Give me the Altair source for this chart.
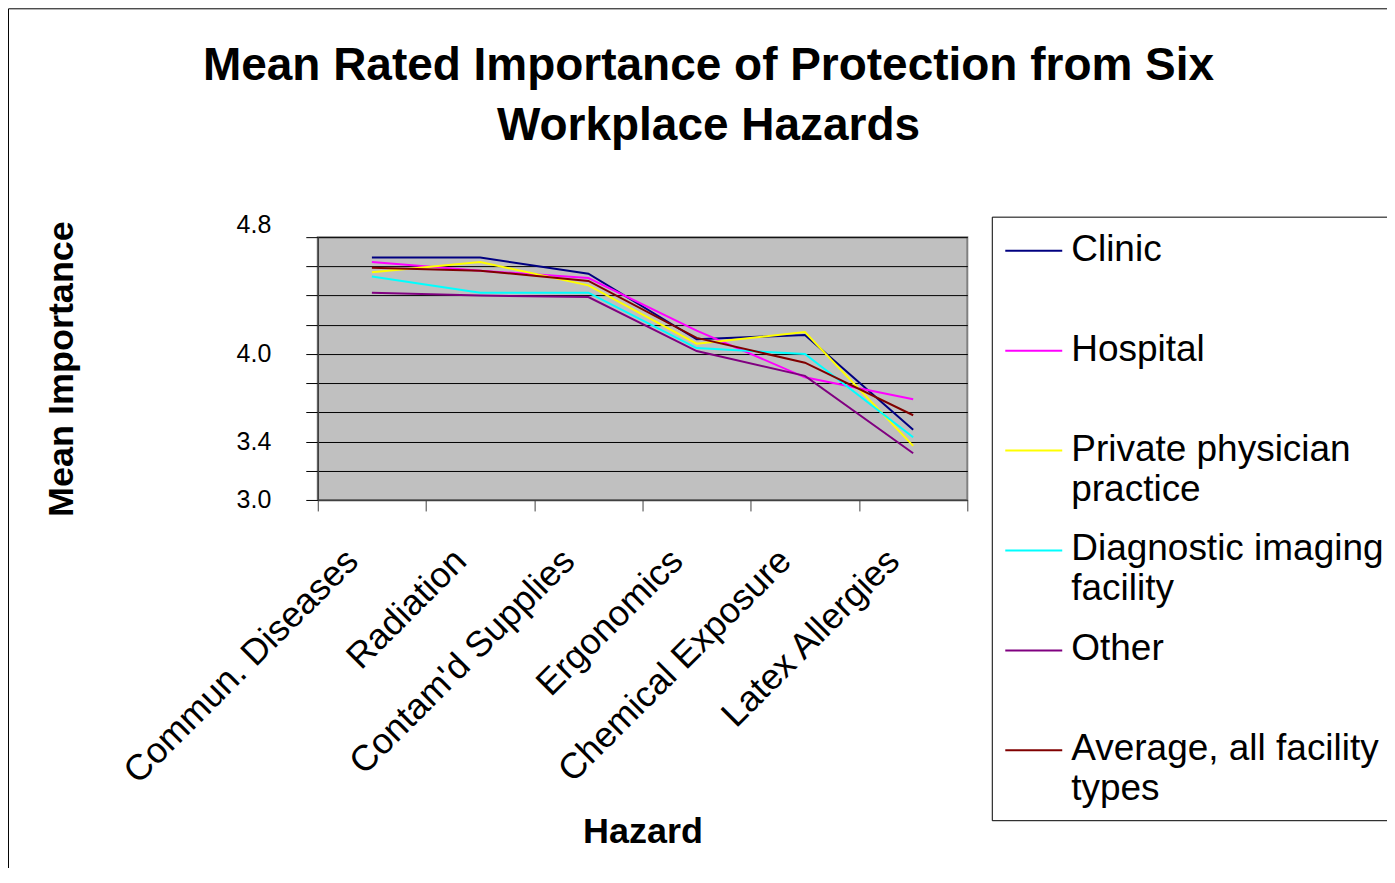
import altair as alt
import pandas as pd

FONT = "Liberation Sans"

hazards = ["Commun. Diseases", "Radiation", "Contam'd Supplies",
           "Ergonomics", "Chemical Exposure", "Latex Allergies"]
series_names = ["Clinic", "Hospital", "Private physician practice",
                "Diagnostic imaging facility", "Other", "Average, all facility types"]
legend_labels = ["Clinic", "Hospital", "Private physician\npractice",
                 "Diagnostic imaging\nfacility", "Other", "Average, all facility\ntypes"]
colors = ["#000080", "#FF00FF", "#FFFF00", "#00FFFF", "#800080", "#800000"]

clinic = [4.66, 4.66, 4.55, 4.10, 4.13, 3.48]
hospital = [4.63, 4.57, 4.52, 4.16, 3.84, 3.69]
private = [4.56, 4.63, 4.47, 4.07, 4.15, 3.37]
diagnostic = [4.53, 4.42, 4.42, 4.04, 4.00, 3.43]
other = [4.42, 4.40, 4.39, 4.02, 3.85, 3.32]
average = [4.59, 4.57, 4.50, 4.11, 3.94, 3.58]

y_ticks = [3.0, 3.2, 3.4, 3.6, 3.8, 4.0, 4.2, 4.4, 4.6, 4.8]
y_labels_shown = ["4.8", "4.0", "3.4", "3.0"]

all_series = [clinic, hospital, private, diagnostic, other, average]
rows = []
for s_i, (name, vals) in enumerate(zip(series_names, all_series)):
    for h_i, (hz, v) in enumerate(zip(hazards, vals)):
        rows.append({"series": name, "hazard": hz, "value": v, "s": s_i, "h": h_i})
df = pd.DataFrame(rows)

leg_df = pd.DataFrame({"series": series_names, "label": legend_labels,
                       "row": list(range(len(series_names)))})

color_enc = alt.Color("series:N", sort=series_names,
                      scale=alt.Scale(domain=series_names, range=colors), legend=None)

shown = "[" + ",".join("'%s'" % s for s in y_labels_shown) + "]"
y_axis = alt.Axis(
    values=y_ticks, labelExpr=f"indexof({shown}, format(datum.value, '.1f')) >= 0 ? format(datum.value, '.1f') : ''",
    labelFont=FONT, labelFontSize=25, labelColor="black", labelPadding=35,
    labelBaseline={"condition": {"test": "datum.value > 4.75", "value": "bottom"}, "value": "middle"},
    labelFlush=False, labelOverlap=False,
    tickSize=12, tickColor="black", tickWidth=1,
    domainColor="#404040", domainWidth=1.5,
    grid=True, gridColor="black", gridWidth=1,
    title="Mean Importance", titleFont=FONT, titleFontSize=36, titleFontWeight="bold",
    titleColor="black", titleX=-256, titleY=131.5, titleAlign="center", titleBaseline="middle",
)

x_axis = alt.Axis(
    labelAngle=-45, labelAlign="right", labelBaseline="top",
    labelFont=FONT, labelFontSize=36, labelColor="black", labelPadding=32, labelOffset=-32,
    labelLimit=600, labelOverlap=False, labelBound=False,
    tickBand="extent", tickSize=11, tickColor="#404040", domainColor="#404040", domainWidth=1.5,
    grid=False,
    title="Hazard", titleFont=FONT, titleFontSize=36, titleFontWeight="bold",
    titleColor="black", titleY=332, titleBaseline="middle",
)

lines = alt.Chart(df).mark_line(strokeWidth=2).encode(
    x=alt.X("hazard:N", sort=hazards,
            scale=alt.Scale(type="band", paddingInner=0, paddingOuter=0),
            bandPosition=0.5, axis=x_axis),
    y=alt.Y("value:Q", scale=alt.Scale(domain=[3.0, 4.8], nice=False, zero=False), axis=y_axis),
    color=color_enc,
    detail="series:N",
    order="h:Q",
)

# outer chart frame (decorative border around the whole chart)
frame = alt.Chart(pd.DataFrame({"k": [0]})).mark_rect(
    fill="white", fillOpacity=0, stroke="black", strokeWidth=1
).encode(
    x=alt.value(-309.5), x2=alt.value(1200),
    y=alt.value(-228.5), y2=alt.value(800),
)

leg_scale = alt.Scale(domain=[-0.137, 2.494], reverse=True, nice=False, zero=False)

leg_box = alt.Chart(pd.DataFrame({"k": [0]})).mark_rect(
    fill="white", stroke="black", strokeWidth=1
).encode(
    x=alt.value(675), x2=alt.value(1090),
    y=alt.Y("a:Q", scale=leg_scale, axis=None), y2="b:Q",
).transform_calculate(a="-0.337", b="5.705")

leg_sym = alt.Chart(leg_df).mark_rule(strokeWidth=2).encode(
    x=alt.value(688), x2=alt.value(745),
    y=alt.Y("row:Q", scale=leg_scale, axis=None),
    color=color_enc,
)

leg_txt = alt.Chart(leg_df).mark_text(
    align="left", baseline="alphabetic", dy=10, font=FONT, fontSize=37,
    lineBreak="\n", lineHeight=40, color="black",
).encode(
    x=alt.value(754),
    y=alt.Y("row:Q", scale=leg_scale, axis=None),
    text="label:N",
)

chart = alt.layer(frame, lines, leg_box, leg_sym, leg_txt).resolve_scale(
    y="independent"
).properties(
    width=650, height=263,
    autosize=alt.AutoSizeParams(type="none"),
    padding={"left": 310, "top": 229, "right": 420, "bottom": 368},
    title=alt.TitleParams(
        text=["Mean Rated Importance of Protection from Six", "Workplace Hazards"],
        font=FONT, fontSize=46, fontWeight="bold", color="black",
        anchor="middle", frame="group", dx=66, offset=-141.5, lineHeight=60,
    ),
).configure_view(fill="#C0C0C0", stroke="#808080", strokeWidth=2)

chart.save("out.html", embed_options={"renderer": "svg", "actions": False})
